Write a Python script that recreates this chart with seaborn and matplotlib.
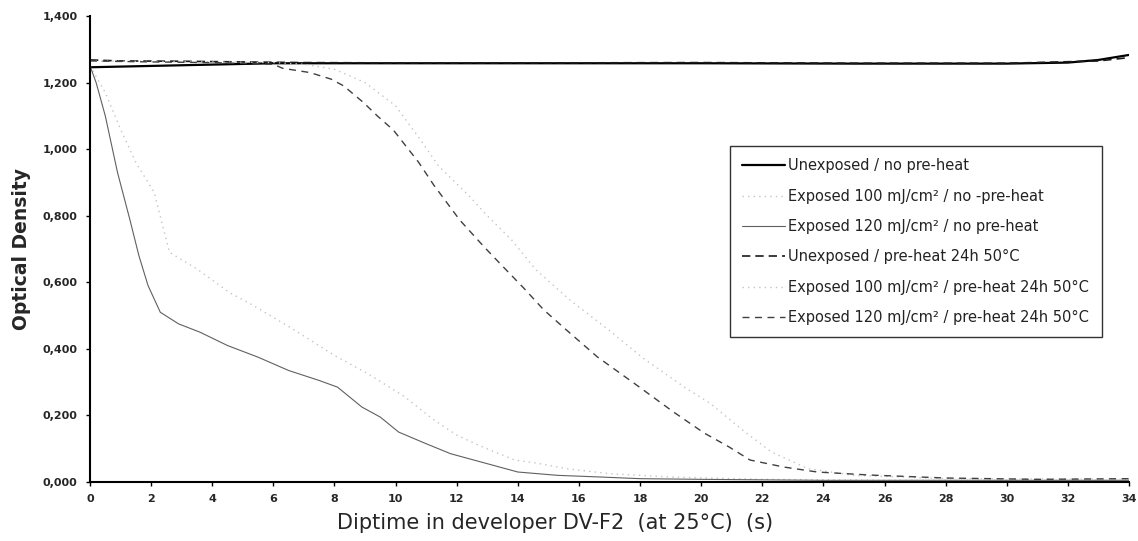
import numpy as np
import pandas as pd
import matplotlib
matplotlib.use("Agg")
import matplotlib.pyplot as plt
import seaborn as sns

# ---- data ----
unexp_nopre_x = [0, 2, 4, 6, 10, 15, 20, 25, 30, 32, 33, 34]
unexp_nopre_y = [1.246, 1.25, 1.254, 1.258, 1.258, 1.258, 1.258, 1.257, 1.257, 1.26, 1.268, 1.283]

exp100_nopre_x = [0, 0.5, 1, 1.5, 2.1, 2.6, 3.5, 4.6, 5.2, 5.9, 6.7, 8, 9.1, 10.3, 11.2, 12, 12.7,
                  13.9, 14.6, 15.6, 17, 19, 22, 26, 34]
exp100_nopre_y = [1.25, 1.17, 1.06, 0.96, 0.87, 0.69, 0.64, 0.567, 0.538, 0.5, 0.456, 0.38, 0.325,
                  0.256, 0.19, 0.141, 0.111, 0.066, 0.057, 0.04, 0.025, 0.015, 0.008, 0.005, 0.005]

exp120_nopre_x = [0, 0.2, 0.5, 0.9, 1.3, 1.6, 1.9, 2.3, 2.9, 3.6, 4.5, 5.5, 6.5, 7.5, 8.1, 8.9, 9.5,
                  10.1, 11, 11.8, 12.8, 14, 15.3, 16.7, 18, 20, 24, 28, 34]
exp120_nopre_y = [1.25, 1.2, 1.1, 0.93, 0.79, 0.68, 0.59, 0.51, 0.475, 0.45, 0.41, 0.375, 0.335,
                  0.305, 0.285, 0.225, 0.195, 0.15, 0.115, 0.085, 0.06, 0.03, 0.02, 0.015, 0.01,
                  0.008, 0.005, 0.005, 0.005]

unexp_pre_x = [0, 1, 3, 5, 7, 10, 15, 20, 25, 30, 33, 34]
unexp_pre_y = [1.268, 1.265, 1.264, 1.262, 1.26, 1.259, 1.259, 1.26, 1.258, 1.258, 1.265, 1.275]

exp100_pre_x = [0, 4, 6, 7, 8, 9, 10, 10.8, 11.4, 12.4, 13, 13.8, 14.6, 15.7, 17, 18.1, 19.45,
                20.3, 21.3, 22.3, 23.5, 25, 28, 34]
exp100_pre_y = [1.265, 1.262, 1.26, 1.255, 1.24, 1.2, 1.13, 1.03, 0.95, 0.86, 0.8, 0.727, 0.637,
                0.547, 0.455, 0.372, 0.285, 0.236, 0.16, 0.09, 0.04, 0.02, 0.01, 0.008]

exp120_pre_x = [0, 2, 4, 6, 6.3, 7.2, 7.9, 8.3, 8.95, 9.4, 9.93, 10.75, 11.25, 12.1, 12.9, 13.4,
                14.2, 14.85, 15.6, 16.6, 17.8, 19.1, 20.1, 20.9, 21.6, 22.7, 23.8, 25.5, 28, 31, 34]
exp120_pre_y = [1.265, 1.262, 1.26, 1.255, 1.243, 1.23, 1.21, 1.19, 1.14, 1.10, 1.057, 0.961,
                0.892, 0.787, 0.706, 0.658, 0.582, 0.517, 0.456, 0.376, 0.297, 0.21, 0.147, 0.106,
                0.066, 0.045, 0.03, 0.021, 0.012, 0.008, 0.01]

labels = [
    "Unexposed / no pre-heat",
    "Exposed 100 mJ/cm² / no -pre-heat",
    "Exposed 120 mJ/cm² / no pre-heat",
    "Unexposed / pre-heat 24h 50°C",
    "Exposed 100 mJ/cm² / pre-heat 24h 50°C",
    "Exposed 120 mJ/cm² / pre-heat 24h 50°C",
]
xs = [unexp_nopre_x, exp100_nopre_x, exp120_nopre_x, unexp_pre_x, exp100_pre_x, exp120_pre_x]
ys = [unexp_nopre_y, exp100_nopre_y, exp120_nopre_y, unexp_pre_y, exp100_pre_y, exp120_pre_y]

styles = [
    dict(color="#000000", linestyle="-", linewidth=1.6),
    dict(color="#c4c4c4", linestyle=(0, (1, 3)), linewidth=1.0),
    dict(color="#606060", linestyle="-", linewidth=0.8),
    dict(color="#1a1a1a", linestyle=(0, (5, 3)), linewidth=1.2),
    dict(color="#c4c4c4", linestyle=(0, (1, 3)), linewidth=1.0),
    dict(color="#404040", linestyle=(0, (5, 4)), linewidth=1.0),
]

y_ticks = [0.0, 0.2, 0.4, 0.6, 0.8, 1.0, 1.2, 1.4]
x_ticks = list(range(0, 35, 2))

sns.set_style("ticks")
plt.rcParams["font.family"] = ["DejaVu Sans"]

fig = plt.figure(figsize=(11.38, 5.41), dpi=100)
ax = fig.add_axes([90 / 1138, 1 - 482 / 541, (1129 - 90) / 1138, (482 - 16) / 541])

for lab, x, y, st in zip(labels, xs, ys, styles):
    df = pd.DataFrame({"x": x, "y": y})
    sns.lineplot(data=df, x="x", y="y", ax=ax, label=lab, sort=False, **st)

ax.set_xlim(0, 34)
ax.set_ylim(0, 1.4)
ax.set_xticks(x_ticks)
ax.set_xticklabels([str(v) for v in x_ticks], fontsize=8, fontweight="bold")
ax.set_yticks(y_ticks)
ax.set_yticklabels([f"{v:.3f}".replace(".", ",") for v in y_ticks], fontsize=8, fontweight="bold")
ax.tick_params(axis="both", direction="out", length=3, width=1, color="black", pad=6)

for s in ["top", "right"]:
    ax.spines[s].set_visible(False)
for s in ["left", "bottom"]:
    ax.spines[s].set_color("black")
    ax.spines[s].set_linewidth(1.5)

ax.set_ylabel("Optical Density", fontsize=13.5, fontweight="bold")
ax.yaxis.set_label_coords(-0.057, 0.5)
ax.set_xlabel("Diptime in developer DV-F2  (at 25°C)  (s)", fontsize=15)
ax.xaxis.set_label_coords((555 - 90) / 1039, -0.066)

leg = ax.legend(loc="upper left", bbox_to_anchor=((730 - 90) / 1039, (482 - 146) / 466),
                frameon=True, fancybox=False, edgecolor="black", fontsize=10.5,
                handlelength=2.9, handletextpad=0.25, labelspacing=1.05, borderpad=0.85,
                borderaxespad=0)
leg.get_frame().set_linewidth(1.0)
for t in leg.get_texts():
    t.set_color("#222222")

fig.savefig("out.png", dpi=100, facecolor="white")
